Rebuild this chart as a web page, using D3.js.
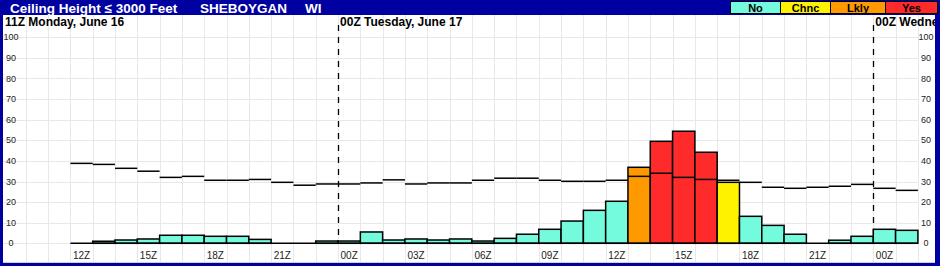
<!DOCTYPE html>
<html>
<head>
<meta charset="utf-8">
<script src="https://cdn.jsdelivr.net/npm/d3@7"></script>
<style>
  html, body { margin: 0; padding: 0; background: #fff; }
  svg { display: block; font-family: "Liberation Sans", Arial, sans-serif; }
</style>
</head>
<body>
<div id="chart"></div>
<script>
// 数据: 每小时一根柱 (小时数从 6/16 00Z 起算)
const hours = [12, 13, 14, 15, 16, 17, 18, 19, 20, 21, 22, 23, 24, 25, 26, 27, 28, 29, 30,
               31, 32, 33, 34, 35, 36, 37, 38, 39, 40, 41, 42, 43, 44, 45, 46, 47, 48, 49];
const probs = [0, 1, 1.6, 2.1, 3.9, 3.9, 3.4, 3.4, 1.9, 0, 0, 1.1, 1.1, 5.5, 1.6, 2.1, 1.6, 2.1, 1.1,
               2.4, 4.4, 6.8, 10.8, 16, 20.4, 36.9, 49.5, 54.4, 44.2, 29.6, 13.1, 8.7, 4.4, 0, 1.5, 3.4, 6.8, 6.3];
const climo = [38.8, 38.3, 36.4, 35, 32, 32.5, 30.6, 30.6, 31, 29.6, 28.2, 28.8, 28.8, 29.3, 30.8, 28.8, 29.3, 29.3, 30.6,
               31.6, 31.6, 30.6, 30.1, 30.1, 30.6, 32.5, 34, 32, 31, 30.6, 29.6, 27.2, 26.7, 27.2, 27.7, 28.6, 26.7, 25.7];
const cats = ['No', 'No', 'No', 'No', 'No', 'No', 'No', 'No', 'No', 'No', 'No', 'No', 'No', 'No', 'No', 'No', 'No', 'No', 'No',
              'No', 'No', 'No', 'No', 'No', 'No', 'Lkly', 'Yes', 'Yes', 'Yes', 'Chnc', 'No', 'No', 'No', 'No', 'No', 'No', 'No', 'No'];

const legendNames = ['No', 'Chnc', 'Lkly', 'Yes'];
const legendColors = ['#74fadc', '#fff200', '#ff9900', '#ff2a2a'];

const tickHours = [12, 15, 18, 21, 24, 27, 30, 33, 36, 39, 42, 45, 48];
const tickLabels = ['12Z', '15Z', '18Z', '21Z', '00Z', '03Z', '06Z', '09Z', '12Z', '15Z', '18Z', '21Z', '00Z'];
const yTicks = [0, 10, 20, 30, 40, 50, 60, 70, 80, 90, 100];

const dayHours = [24, 48];
const dayLabels = ['11Z Monday, June 16', '00Z Tuesday, June 17', '00Z Wednesday, June 18'];

const width = 940, height = 266;
const blue = '#0000a0';

const svg = d3.select('#chart').append('svg')
    .attr('width', width)
    .attr('height', height);

// 比例尺
const x = d3.scaleLinear().domain([9, 50]).range([3.5, 917.9]);
const y = d3.scaleLinear().domain([0, 100]).range([243.3, 37.3]);
const color = d3.scaleOrdinal().domain(legendNames).range(legendColors);

// 边框和标题栏
svg.append('rect').attr('x', 0).attr('y', 0).attr('width', width).attr('height', height).attr('fill', blue);
svg.append('rect').attr('x', 3).attr('y', 15).attr('width', 932).attr('height', 248).attr('fill', '#fff');
svg.append('line').attr('x1', 3).attr('x2', 935).attr('y1', 262.5).attr('y2', 262.5)
    .attr('stroke', '#d0d0d0').attr('stroke-width', 1);

const titleParts = [['Ceiling Height \u2264 3000 Feet', 10], ['SHEBOYGAN', 200], ['WI', 305]];
titleParts.forEach(t => {
    svg.append('text')
        .attr('x', t[1]).attr('y', 12.5)
        .attr('fill', '#fff').attr('font-weight', 'bold').attr('font-size', 13.5)
        .text(t[0]);
});

// 图例
const legX = [730, 780, 830, 885, 937];
const legend = svg.append('g');
legendNames.forEach((name, i) => {
    legend.append('rect')
        .attr('x', legX[i] + 0.5).attr('y', 1.5)
        .attr('width', legX[i + 1] - legX[i]).attr('height', 12)
        .attr('fill', legendColors[i])
        .attr('stroke', '#000').attr('stroke-width', 1);
    legend.append('text')
        .attr('x', (legX[i] + legX[i + 1]) / 2 + 0.5).attr('y', 11.5)
        .attr('text-anchor', 'middle')
        .attr('font-weight', 'bold').attr('font-size', 11)
        .text(name);
});

// 网格
const grid = svg.append('g').attr('stroke', '#e8e8e8').attr('stroke-width', 1);
const gridHours = d3.range(10, 51);
grid.selectAll('line.v').data(gridHours).enter().append('line')
    .attr('class', 'v')
    .attr('x1', d => Math.round(x(d)) + 0.5).attr('x2', d => Math.round(x(d)) + 0.5)
    .attr('y1', 15).attr('y2', 262);
grid.selectAll('line.h').data(yTicks).enter().append('line')
    .attr('class', 'h')
    .attr('x1', 3).attr('x2', x(50))
    .attr('y1', d => Math.round(y(d)) + 0.5).attr('y2', d => Math.round(y(d)) + 0.5);

// 日期标签
const clip = svg.append('clipPath').attr('id', 'plotClip');
clip.append('rect').attr('x', 3).attr('y', 15).attr('width', 932).attr('height', 248);
const dates = svg.append('g').attr('clip-path', 'url(#plotClip)');
dates.append('text')
    .attr('x', 5).attr('y', 26)
    .attr('font-weight', 'bold').attr('font-size', 12)
    .text(dayLabels[0]);
dayHours.forEach((h, i) => {
    dates.append('text')
        .attr('x', x(h) + 2).attr('y', 26)
        .attr('font-weight', 'bold').attr('font-size', 12)
        .text(dayLabels[i + 1]);
});

// 日界虚线
svg.selectAll('line.day').data(dayHours).enter().append('line')
    .attr('class', 'day')
    .attr('x1', d => Math.round(x(d)) + 0.5).attr('x2', d => Math.round(x(d)) + 0.5)
    .attr('y1', 25).attr('y2', y(0))
    .attr('stroke', '#000').attr('stroke-width', 1.3)
    .attr('stroke-dasharray', '6,6');

// 柱
const data = hours.map((h, i) => ({ h: h, p: probs[i], c: climo[i], cat: cats[i] }));
svg.append('g').selectAll('rect').data(data).enter().append('rect')
    .attr('x', d => x(d.h))
    .attr('y', d => y(d.p))
    .attr('width', d => x(d.h + 1) - x(d.h))
    .attr('height', d => y(0) - y(d.p))
    .attr('fill', d => color(d.cat))
    .attr('stroke', '#000').attr('stroke-width', 1.5);

// 零线
svg.append('line')
    .attr('x1', x(hours[0])).attr('x2', x(hours[hours.length - 1] + 1))
    .attr('y1', y(0)).attr('y2', y(0))
    .attr('stroke', '#000').attr('stroke-width', 1.5);

// 气候值阶梯线
svg.append('g').selectAll('line').data(data).enter().append('line')
    .attr('x1', d => x(d.h)).attr('x2', d => x(d.h + 1))
    .attr('y1', d => y(d.c)).attr('y2', d => y(d.c))
    .attr('stroke', '#000').attr('stroke-width', 1.5);

// 坐标轴标签
const yLab = svg.append('g').attr('font-size', 9).attr('fill', '#222');
yLab.selectAll('text.l').data(yTicks).enter().append('text')
    .attr('class', 'l')
    .attr('x', 11).attr('y', d => y(d) + 3)
    .attr('text-anchor', 'middle')
    .text(d => d);
yLab.selectAll('text.r').data(yTicks).enter().append('text')
    .attr('class', 'r')
    .attr('x', 926).attr('y', d => y(d) + 3)
    .attr('text-anchor', 'middle')
    .text(d => d);

svg.append('g').selectAll('text').data(tickHours).enter().append('text')
    .attr('x', d => x(d + 0.5))
    .attr('y', 259)
    .attr('text-anchor', 'middle')
    .attr('font-size', 10).attr('fill', '#222')
    .text((d, i) => tickLabels[i]);
</script>
</body>
</html>
